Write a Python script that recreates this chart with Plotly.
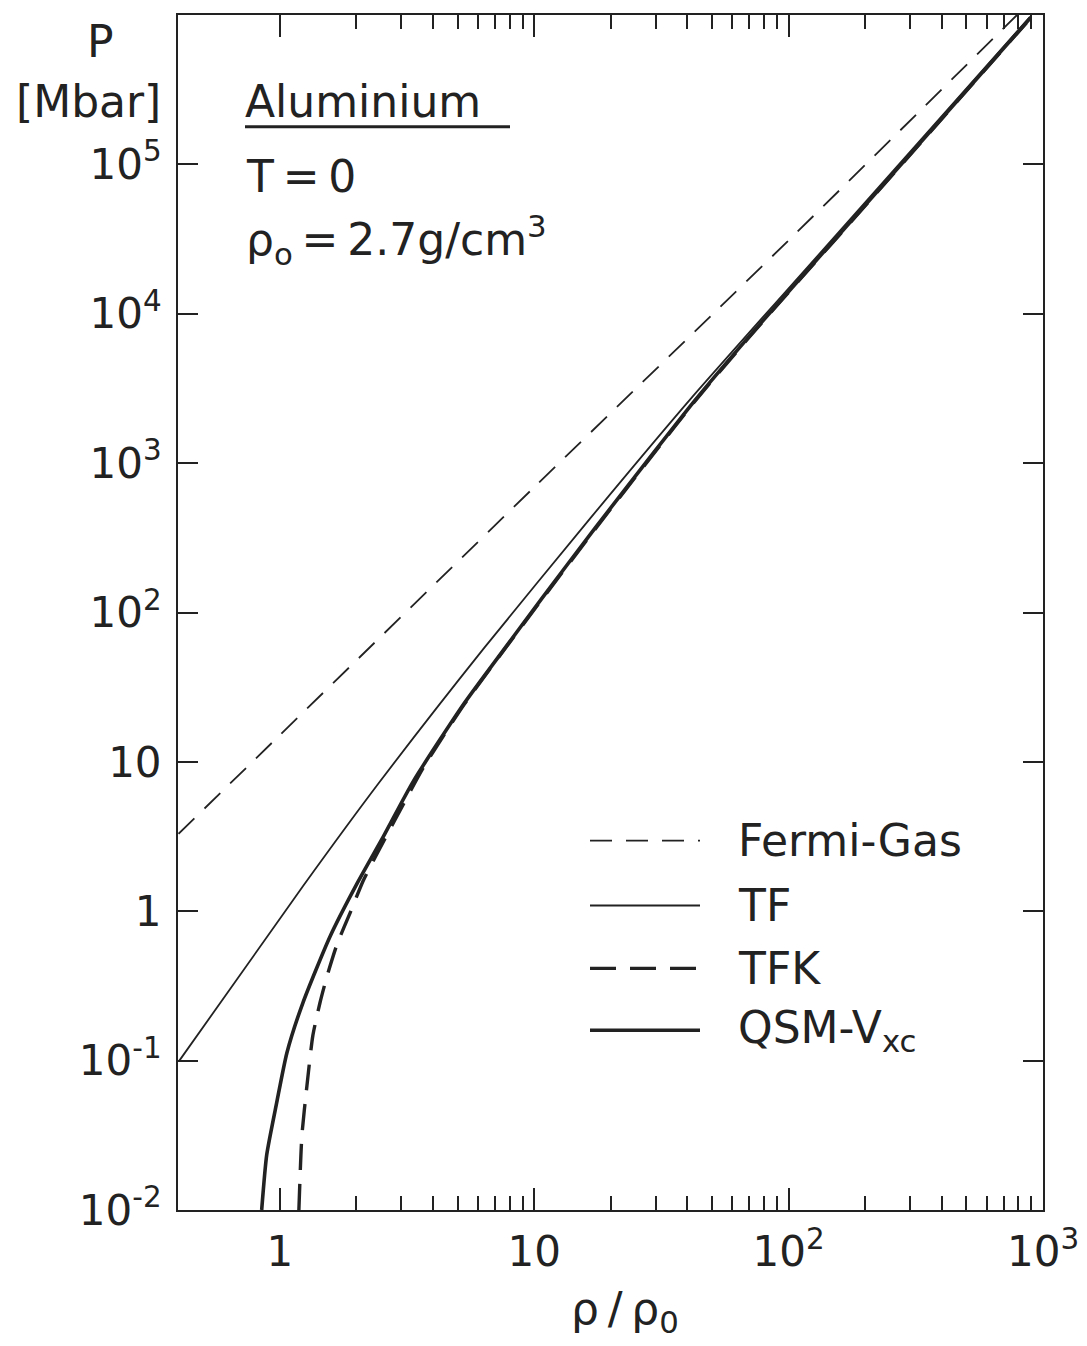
import plotly.graph_objects as go

# ---------------- data ----------------
rho_fermi = [0.4, 1.0, 10.0, 100.0, 790.0]
p_fermi = [3.3, 15.1, 690.0, 3.1e4, 1.0e6]

rho_tf = [0.403, 1.233, 2.438, 6.339, 16.79, 41.69, 130.3, 891.3]
p_tf = [0.1, 1.469, 7.129, 57.5, 436.5, 2754.0, 24550.0, 977000.0]

rho_tfk = [1.189, 1.222, 1.279, 1.349, 1.439, 1.535, 1.679, 1.892, 2.128, 2.371,
           2.818, 3.673, 5.284, 7.211, 10.67, 17.26, 29.79, 42.85, 70.15, 130.3,
           167.9, 891.3]
p_tfk = [0.01, 0.0316, 0.068, 0.147, 0.244, 0.369, 0.60, 0.98, 1.60, 2.30,
         4.0, 9.2, 24.0, 49.6, 121.0, 357.0, 1185.0, 2600.0, 7000.0, 23200.0,
         37700.0, 950000.0]

rho_qsm = [0.849, 0.889, 0.973, 1.067, 1.233, 1.578, 2.014, 2.553, 3.357, 5.284,
           7.211, 10.67, 17.26, 29.79, 42.85, 70.15, 130.3, 167.9, 891.3]
p_qsm = [0.01, 0.0235, 0.0525, 0.113, 0.244, 0.681, 1.538, 3.162, 7.464, 24.38,
         50.1, 123.0, 363.0, 1202.0, 2630.0, 7080.0, 23440.0, 38020.0, 955000.0]

x_major = [1, 10, 100, 1000]
x_major_text = ["1", "10", "10<sup>2</sup>", "10<sup>3</sup>"]
x_minor = [m * d for d in (1, 10, 100) for m in range(2, 10)]
y_major = [1e-2, 1e-1, 1, 10, 1e2, 1e3, 1e4, 1e5]
y_major_text = ["10<sup>-2</sup>", "10<sup>-1</sup>", "1", "10", "10<sup>2</sup>",
                "10<sup>3</sup>", "10<sup>4</sup>", "10<sup>5</sup>"]

series_names = ["Fermi-Gas", "TF", "TFK", "QSM-V<sub>xc</sub>"]

INK = "#222222"
FONT = "DejaVu Sans"
TXT = 44

styles = [
    dict(width=1.8, dash="22px,14px"),
    dict(width=1.8, dash="solid"),
    dict(width=3.4, dash="26px,14px"),
    dict(width=3.6, dash="solid"),
]

fig = go.Figure()
for (xs, ys), name, st in zip(
        [(rho_fermi, p_fermi), (rho_tf, p_tf), (rho_tfk, p_tfk), (rho_qsm, p_qsm)],
        series_names, styles):
    fig.add_trace(go.Scatter(x=xs, y=ys, mode="lines", name=name,
                             line=dict(color=INK, width=st["width"], dash=st["dash"],
                                       shape="spline", smoothing=0.6),
                             showlegend=False))

# plot area geometry in page px (page body has an 8px offset)
OFF = 8
L, R, T, B = 178, 1043, 13, 1210
W, H = R - L, B - T


def px(xp):
    return (xp - L) / W


def py(yp):
    return (B - yp) / H


annotations = []
shapes = []

# custom legend (long line samples like the original)
legend_rows = [840, 905, 968, 1030]
for name, st, yr in zip(series_names, styles, legend_rows):
    shapes.append(dict(type="line", xref="paper", yref="paper",
                       x0=px(590), x1=px(700), y0=py(yr), y1=py(yr),
                       line=dict(color=INK, width=st["width"], dash=st["dash"])))
    annotations.append(dict(text=name, xref="paper", yref="paper", x=px(736), y=py(yr),
                            xanchor="left", yanchor="middle", showarrow=False,
                            font=dict(size=TXT, family=FONT, color=INK)))

# texts inside / around the plot
annotations += [
    dict(text="Aluminium", x=px(243), y=py(100), xanchor="left", yanchor="middle"),
    dict(text="T\u2009=\u20090", x=px(244), y=py(175), xanchor="left", yanchor="middle"),
    dict(text="ρ<sub>o</sub>\u2009=\u20092.7g/cm<sup>3</sup>", x=px(244), y=py(238),
         xanchor="left", yanchor="middle"),
    dict(text="P", x=px(100), y=py(40), xanchor="center", yanchor="middle"),
    dict(text="[Mbar]", x=px(88), y=py(100), xanchor="center", yanchor="middle"),
    dict(text="ρ\u2009/\u2009ρ<sub>0</sub>", x=px(625), y=py(1312), xanchor="center",
         yanchor="middle"),
]
for a in annotations[len(legend_rows):]:
    a.update(xref="paper", yref="paper", showarrow=False,
             font=dict(size=TXT, family=FONT, color=INK))

# underline of "Aluminium"
shapes.append(dict(type="line", xref="paper", yref="paper",
                   x0=px(245), x1=px(510), y0=py(125), y1=py(125),
                   line=dict(color=INK, width=3)))

fig.update_layout(
    width=1087, height=1346,
    margin=dict(l=L - OFF, r=1087 - (R - OFF), t=T - OFF, b=1346 - (B - OFF)),
    paper_bgcolor="white", plot_bgcolor="white",
    font=dict(family=FONT, size=42, color=INK),
    annotations=annotations, shapes=shapes,
    showlegend=False,
)
fig.update_xaxes(type="log", range=[-0.4, 3.0],
                 tickvals=x_major, ticktext=x_major_text,
                 ticks="inside", ticklen=22, tickwidth=2, tickcolor=INK,
                 minor=dict(tickvals=x_minor, ticks="inside", ticklen=14,
                            tickwidth=2, tickcolor=INK, showgrid=False),
                 showline=True, linecolor=INK, linewidth=2, mirror="ticks",
                 showgrid=False, zeroline=False, ticklabelstandoff=4,
                 tickfont=dict(size=42, family=FONT, color=INK))
fig.update_yaxes(type="log", range=[-2, 6],
                 tickvals=y_major, ticktext=y_major_text,
                 ticks="inside", ticklen=20, tickwidth=2, tickcolor=INK,
                 showline=True, linecolor=INK, linewidth=2, mirror="ticks",
                 showgrid=False, zeroline=False, ticklabelstandoff=6,
                 tickfont=dict(size=42, family=FONT, color=INK))

fig.write_html("out.html")
